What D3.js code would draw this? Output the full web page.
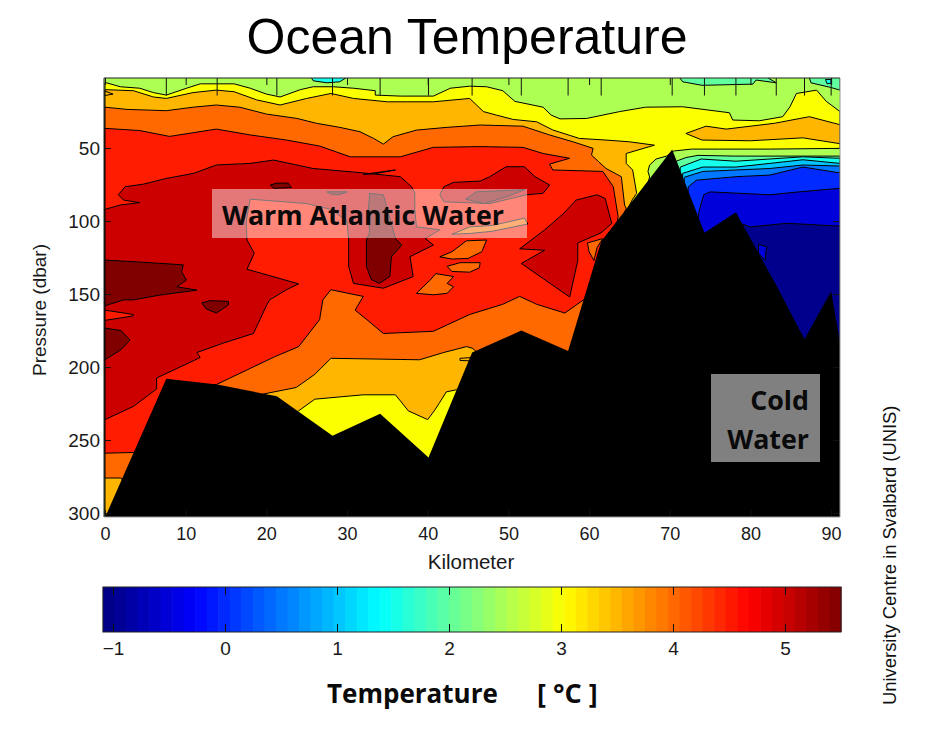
<!DOCTYPE html>
<html><head><meta charset="utf-8">
<script src="https://cdn.jsdelivr.net/npm/d3@7/dist/d3.min.js"></script>
<style>html,body{margin:0;padding:0;background:#fff}svg{display:block}
text{font-family:"Liberation Sans",Arial,sans-serif}</style>
</head><body><svg id="c" width="932" height="732"></svg>
<script>
// Stations along the section: km and bottom pressure (dbar)
const stationKm = [0,7.6,13.9,21.3,28.2,34.1,40.1,45.5,51.6,57.4,61.5,70.3,74.3,78.2,83.2,86.7,90,91.1];
const bottomDbar = [303,208,212,220,247,232,262,190,175,189,114,51,108,94,144,181,148,183];
const kmTicks = [0,10,20,30,40,50,60,70,80,90];
const dbarTicks = [50,100,150,200,250,300];
const tempTicks = [-1,0,1,2,3,4,5];

// Isotherm rings [km, dbar]. Each fills "warmer than level" or a local patch.
const t30 = [[0,5],[1.9,8],[4.3,9],[6,12],[7.6,13.7],[10.1,9],[11.8,6],[16,6],[18,9],[20,13],[21.7,15],[24.2,10],[25.8,8],[28.3,8],[30.8,9],[33.5,10.7],[33.5,13.7],[36.6,14.4],[40.7,14.4],[42.8,9],[45.2,7.6],[47.3,8],[49.3,10.7],[50.8,18],[54.3,22],[55.3,27.4],[56.4,30],[59.7,29.7],[63.8,25],[67,22],[71.6,21.7],[77.4,25.8],[77.8,30.8],[81.1,31.3],[84,28.5],[84.9,21.7],[85.7,12.6],[88.2,10.3],[89.4,18],[91.1,25],[91.1,50.2],[82.5,50.7],[76.2,50.7],[72.7,50.7],[70.5,52],[69.6,55.5],[68.3,57.5],[67.5,61.6],[67.3,66],[67.5,69.8],[66,100],[66,300],[0,303]];
const t35 = [[0,10],[3.5,10.7],[6,15],[7.6,16],[10.9,12],[13.8,10.3],[16,11.4],[18.8,17],[21.7,20.5],[25,16],[28,12.6],[30.8,16],[35,18.3],[40.7,18.3],[45.2,16],[46.9,25],[48.5,27.4],[50.6,30.4],[53.5,32],[55.5,37.6],[58.8,43.4],[62.1,44.5],[65,45.7],[68.1,48],[64.6,53.7],[64.6,60.5],[65.4,65],[65.9,81],[65.4,85],[50,250],[43.6,215.5],[42.3,217],[41.4,225],[40.8,230],[40,236],[37.6,230],[36,219],[32,219],[26,222],[24,230],[22,240],[5,290],[0.3,303],[0,303]];
const t35East = [[72,40],[74.5,35],[77,37],[83,33],[87.3,28.5],[91.1,34],[91.1,47],[86.5,43],[80,45],[74,44.5]];
const t40 = [[0,22],[2.7,23.5],[7.6,24.4],[10.9,22],[13.8,20.5],[16.7,22],[20,26.7],[23.8,29.7],[26.2,33],[29.1,35.8],[31.6,38.8],[33.3,43.4],[34.5,47.3],[35.7,42.2],[38.6,37.7],[42.4,35.8],[46.5,34.2],[51.8,35],[55.1,41],[58,45.7],[60.5,50.2],[60.3,54.8],[62.1,64],[64,69.6],[64.4,89],[64.6,91.3],[55,230],[45.5,187],[44.8,186],[42,190],[39,195],[28,194],[26,205],[23.7,214],[19.6,218.5],[15,240],[3,285],[2,276],[0,276]];
const t45 = [[0,36.5],[4.3,38],[8,42],[10.9,39.5],[13.8,37],[18,41],[22.5,44.5],[26.6,48.6],[30.4,56],[36.6,56],[40.7,49.5],[46.5,49],[51.8,49.5],[54.3,53.7],[57.6,57],[55.1,61],[55.5,65],[61.7,66],[63,76.5],[63.6,97],[62,150],[59.3,154],[57,163],[53.5,157],[51.4,151.6],[49.3,157],[45.2,164],[40.7,175.5],[34.5,177],[33,170],[31,161],[32,151.6],[28,147],[27,154],[26.6,167.5],[24,186],[21,193],[13.8,212],[8,215],[4,258],[3.5,258.5],[0,259]];
const t50 = [[0,92],[1.9,89],[4.3,87.4],[2.3,85.6],[1.65,82],[2.5,76.5],[4.75,74.7],[7.6,70.8],[11,67.3],[13.8,61.6],[18,60.5],[20.9,58.2],[25.8,64],[32,67],[36.6,69.6],[38,76.5],[38.4,81],[38.4,92],[38.6,104],[41.5,106],[39.7,112],[40.7,116.4],[37.8,124.4],[38.2,138],[34.5,146],[30.8,142.7],[30.2,131],[30.2,113],[30,100],[28,92],[25,88],[18,85],[17.5,100],[17.6,113],[18.5,122],[17.6,133],[24,143],[22.5,147],[20.4,154],[20,158],[18.4,177],[14.7,183.5],[11.4,190],[11.8,193.5],[6.4,207.5],[6.4,215],[3.5,227],[0,236]];
const t50Sliver = [[32,68],[36,65],[33.5,67.5]];
const t50Mid = [[42,76.5],[43.2,73.5],[46.5,72.6],[47.7,69.6],[49.7,62.8],[52,62.8],[53.3,69.6],[55.1,75.3],[54.3,81],[52.2,82],[47.7,88],[42,86.8],[41.5,82]];
const t50East = [[61,82],[62,84.5],[62.8,101.6],[61.5,108],[58.6,115],[58.6,127],[57.6,152],[51.6,129],[54.5,120],[51.4,119],[54.5,106],[56.8,95],[58.4,85.6]];
const t55West = [[0,126.7],[5.6,128.5],[9.7,130],[9.5,134.7],[10.1,140.4],[8.9,145],[11.4,147.3],[6.8,150.7],[3.5,154],[2.3,154],[0,158]];
const t55Spot = [[12,156],[13,154.5],[15.3,155],[15.3,157.5],[13.8,163],[12.5,160]];
const t55Floor = [[0,173.3],[2,175],[3.1,181.5],[2,188],[0,195]];
const t55Core = [[32.4,113],[32.4,131],[33,140],[34,142.7],[35.3,138],[35.5,124.4],[36.8,116.4],[36,112],[34.5,82],[32.8,81],[32.6,94.7],[32.8,108]];
const t55Top = [[20.5,75.3],[21.3,74],[22.7,74],[23.1,77],[20.9,77.6]];
const t55Thin = [[27.5,80],[30,80],[29,82],[28,81.5]];
const t55Mid = [[44.7,85],[46,80],[50,79],[52,78.5],[50,83],[47,88]];
const t45Notch = [[0,161],[3.5,164],[3.5,165],[0,168]];
const t40PatchA = [[41.5,124.5],[43,121],[44.8,113.5],[47.3,113],[46.7,121],[45,125.6],[43,126]];
const t40PatchB = [[42.4,131],[44,128.5],[46.5,128.5],[46.4,132],[45.2,135],[43,134.5]];
const t40PatchC = [[38.6,149.5],[40.3,140.4],[41,136],[43.2,138],[42.4,142.7],[43.2,145],[42.4,149.5],[40.7,150.5]];
const t40PatchD = [[59.8,115],[61.7,112],[61,118],[60.6,127],[60,121]];
const t40Sliver = [[45.2,104],[48,103],[52,98],[52.4,102],[48,107],[45.2,108.5],[43,109]];
const t35Sliver = [[44,194],[47,193],[47,196],[44,195.5]];
const t35Corner = [[0,11],[1,13],[0,14]];
// Cold side, each fills the water colder than the isotherm above it
const c25 = [[70.8,59],[72,56.5],[73.5,55],[78,55.5],[85,55.5],[91.1,55.5],[91.1,303],[70,303]];
const c20 = [[71.3,63],[73.9,57.5],[78.2,59],[86.5,56],[91.1,57],[91.1,303],[70,303]];
const c15 = [[71.6,67.3],[74.1,63],[78.2,63],[82.4,60.5],[86.5,58],[91.1,60.5],[91.1,303],[70,303]];
const c10 = [[71.8,70],[74.1,66],[78.2,65],[82.4,64],[86.5,61.6],[91.1,62.3],[91.1,303],[70,303]];
const c05 = [[72.3,76.5],[73.3,72],[78.2,69.6],[82.4,68.5],[86.5,63],[91.1,67],[91.1,303],[70,303]];
const c00 = [[73.6,94],[74.2,82],[75,80],[82.4,82],[86,80],[91.1,77.6],[91.1,303],[70,303]];
const cm05 = [[79,102],[80,104],[84.5,101.5],[91.1,103.5],[91.1,303],[70,303]];
const cm05Spot = [[81,116],[82,117.5],[81.8,127],[81,122]];
// Cool surface patches
const s15West = [[25.4,0],[25.8,3.9],[27.5,5.3],[29.1,4.6],[30.4,0]];
const s20Mid = [[71,0],[71.6,4.6],[74,7],[80.3,6.2],[80.7,3.4],[83.2,5.3],[81.6,0]];
const s20East = [[87.2,0],[87.5,5.3],[89.9,8.4],[91.1,10.3],[91.1,0]];
const s15East = [[89.3,3],[90,3],[90,5.5],[89.5,6]];

const paintLevels = [3,3.5,3.5,4,4.5,5,5,5,5,5.5,5.5,5.5,5.5,5.5,5.5,5.5,4.5,4,4,4,4,4,3.5,3.5,2,1.5,1,0.5,0,-0.5,-1,-0.5,1.5,2,2,1.5];
const paintRings = [t30,t35,t35East,t40,t45,t50,t50Sliver,t50Mid,t50East,t55West,t55Spot,t55Floor,t55Core,t55Top,t55Thin,t55Mid,t45Notch,t40PatchA,t40PatchB,t40PatchC,t40PatchD,t40Sliver,t35Sliver,t35Corner,c25,c20,c15,c10,c05,c00,cm05,cm05Spot,s15West,s20Mid,s20East,s15East];

const svg = d3.select("#c");
const X0=104, X1=840, Y0=78, Y1=517;
const x = d3.scaleLinear([0,91.1],[105,840]);
const y = d3.scaleLinear([2,302.7],[Y0,Y1]);

const cDomain=[-1.09,5.5];
const cn = d3.scaleLinear(cDomain,[0,1]);
function jet(t){
  const c=v=>Math.round(255*Math.max(0,Math.min(1,v)));
  const r=Math.min(4*t-1.5,-4*t+4.5), g=Math.min(4*t-0.5,-4*t+3.5), b=Math.min(4*t+0.5,-4*t+2.5);
  return `rgb(${c(r)},${c(g)},${c(b)})`;
}
const tempColor = v=>jet(cn(v));

const defs = svg.append("defs");
defs.append("clipPath").attr("id","plot").append("rect")
  .attr("x",X0).attr("y",Y0).attr("width",X1-X0).attr("height",Y1-Y0);
defs.append("filter").attr("id","soft").attr("x",0).attr("y",0).attr("width","100%").attr("height","100%")
  .append("feGaussianBlur").attr("stdDeviation",0.4);
const plot = svg.append("g").attr("clip-path","url(#plot)").append("g").attr("filter","url(#soft)");
plot.append("rect").attr("x",X0).attr("y",Y0).attr("width",X1-X0).attr("height",Y1-Y0).attr("fill",tempColor(2.5));

const ringPath = d3.line().x(d=>x(d[0])).y(d=>y(d[1])).curve(d3.curveLinear);
plot.selectAll("path.band").data(paintRings).join("path").attr("class","band")
  .attr("d",d=>ringPath(d)+"Z")
  .attr("fill",(d,i)=>tempColor(paintLevels[i]))
  .attr("stroke","#000").attr("stroke-width",1).attr("stroke-linejoin","round");

// Sea floor
const floor = d3.area().x(d=>x(d[0])).y0(Y1+2).y1(d=>y(d[1]));
plot.append("path").datum(d3.zip(stationKm,bottomDbar)).attr("d",floor).attr("fill","#000");

// Station marks hanging from the top
plot.selectAll("line.st").data(stationKm.slice(1,-1)).join("line").attr("class","st")
  .attr("x1",d=>x(d)).attr("x2",d=>x(d)).attr("y1",y(2)).attr("y2",y(14))
  .attr("stroke","#111").attr("stroke-width",1);

// Axes
function styleAxis(g,size){
  g.select(".domain").remove();
  g.selectAll("line").attr("stroke","#111");
  g.selectAll("text").style("font-size",size+"px").style("fill","#1a1a1a");
}
svg.append("g").attr("transform",`translate(0,${Y1})`).call(d3.axisBottom(x).tickValues(kmTicks).tickSize(-7).tickPadding(10)).call(styleAxis,18);
svg.append("g").attr("transform",`translate(0,${Y0})`).call(d3.axisTop(x).tickValues(kmTicks).tickSize(-7).tickFormat("")).call(styleAxis,18);
svg.append("g").attr("transform",`translate(${X0},0)`).call(d3.axisLeft(y).tickValues(dbarTicks).tickSize(-7).tickPadding(4)).call(styleAxis,19);
svg.append("g").attr("transform",`translate(${X1},0)`).call(d3.axisRight(y).tickValues(dbarTicks).tickSize(-7).tickFormat("")).call(styleAxis,19);

// Frame
svg.append("line").attr("x1",X0).attr("x2",X1).attr("y1",Y0).attr("y2",Y0).attr("stroke","#222");
svg.append("line").attr("x1",X0).attr("x2",X0).attr("y1",Y0).attr("y2",Y1).attr("stroke","#222");
svg.append("line").attr("x1",X1).attr("x2",X1).attr("y1",Y0).attr("y2",Y1).attr("stroke","#999");
svg.append("line").attr("x1",X0).attr("x2",X1).attr("y1",Y1).attr("y2",Y1).attr("stroke","#999");

// Annotations
const boldFont = "'Open Sans'";
svg.append("rect").attr("x",212).attr("y",189).attr("width",315).attr("height",49).attr("fill","#fff").attr("opacity",0.47);
svg.append("text").attr("x",222).attr("y",225).text("Warm Atlantic Water").style("font-family",boldFont).style("font-weight",700).style("font-size","26.8px").style("fill","#0a0a0a");
svg.append("rect").attr("x",711).attr("y",374).attr("width",109).attr("height",88).attr("fill","#808080");
svg.selectAll("text.cold").data(["Cold","Water"]).join("text").attr("class","cold")
  .attr("x",809).attr("y",(d,i)=>410+i*39).attr("text-anchor","end").text(d=>d)
  .style("font-family",boldFont).style("font-weight",700).style("font-size","26.8px").style("fill","#0a0a0a");

// Titles
svg.append("text").attr("x",467).attr("y",54).attr("text-anchor","middle").text("Ocean Temperature").style("font-size","50px").style("fill","#000");
svg.append("text").attr("x",471).attr("y",569).attr("text-anchor","middle").text("Kilometer").style("font-size","20.5px").style("fill","#1a1a1a");
svg.append("text").attr("transform","translate(46,310) rotate(-90)").attr("text-anchor","middle").text("Pressure (dbar)").style("font-size","19px").style("fill","#1a1a1a");
svg.append("text").attr("transform","translate(896,705) rotate(-90)").text("University Centre in Svalbard (UNIS)").style("font-size","18.4px").style("fill","#111");

// Colour bar
const cx = d3.scaleLinear([-1,5],[113,785]);
const CB0=587, CB1=632, steps=d3.range(64);
const cLeft = cx(cDomain[0]), cRight = cx(cDomain[1]);
const cw = (cRight-cLeft)/64;
svg.selectAll("rect.cb").data(steps).join("rect").attr("class","cb")
  .attr("x",d=>cLeft+d*cw).attr("y",CB0).attr("width",cw+0.6).attr("height",CB1-CB0)
  .attr("fill",d=>jet((d+0.5)/64));
svg.append("rect").attr("x",cLeft).attr("y",CB0).attr("width",cRight-cLeft).attr("height",CB1-CB0).attr("fill","none").attr("stroke","#222");
svg.append("g").attr("transform",`translate(0,${CB1})`).call(d3.axisBottom(cx).tickValues(tempTicks).tickSize(-8).tickPadding(10).tickFormat(d3.format("d"))).call(styleAxis,19);
svg.append("g").attr("transform",`translate(0,${CB0})`).call(d3.axisTop(cx).tickValues(tempTicks).tickSize(-8).tickFormat("")).call(styleAxis,19);
svg.append("text").attr("x",327).attr("y",703).text("Temperature").style("font-family",boldFont).style("font-weight",700).style("font-size","26px").style("fill","#0a0a0a");
svg.append("text").attr("x",537).attr("y",703).text("[ °C ]").style("font-family",boldFont).style("font-weight",700).style("font-size","27px").style("fill","#0a0a0a");
</script></body></html>
